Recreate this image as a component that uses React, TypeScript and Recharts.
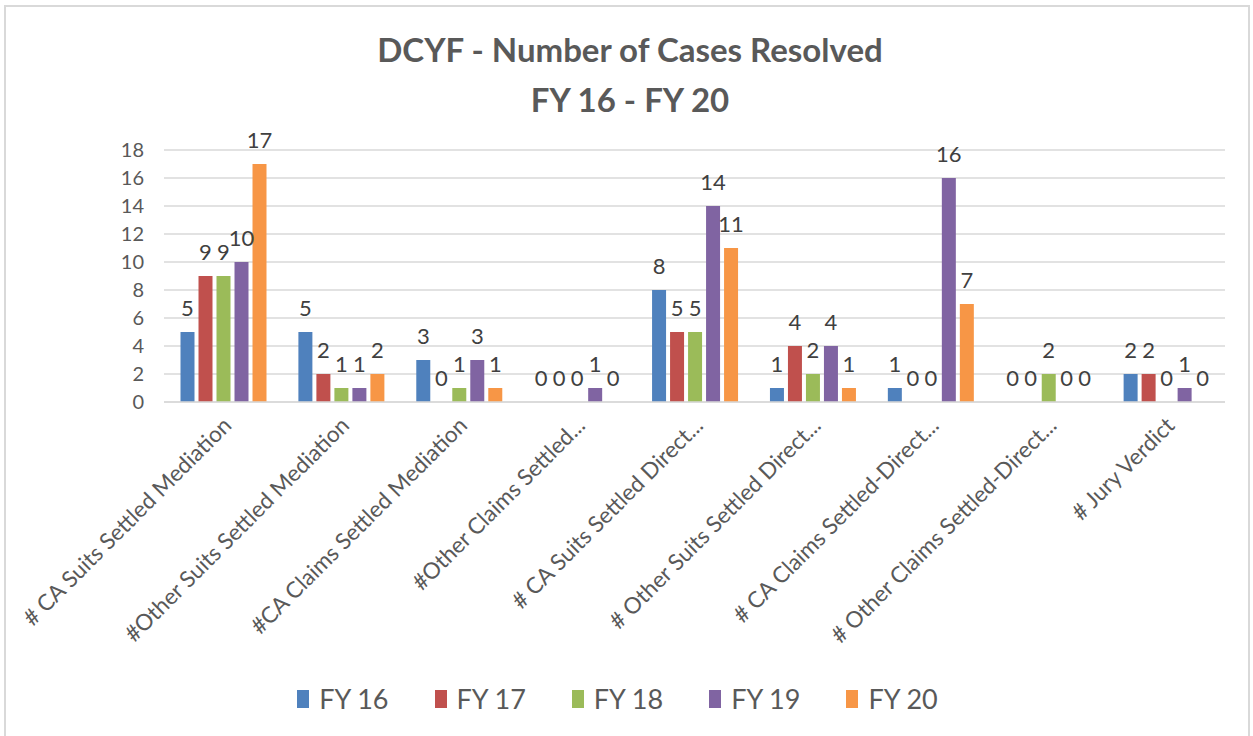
import { BarChart, Bar, XAxis, YAxis, CartesianGrid, LabelList } from 'recharts'

const categories = [
  '# CA Suits Settled Mediation',
  '#Other Suits Settled Mediation',
  '#CA Claims Settled Mediation',
  '#Other Claims Settled...',
  '# CA Suits Settled Direct...',
  '# Other Suits Settled Direct...',
  '# CA Claims Settled-Direct...',
  '# Other Claims Settled-Direct...',
  '# Jury Verdict',
]

const fy16 = [5, 5, 3, 0, 8, 1, 1, 0, 2]
const fy17 = [9, 2, 0, 0, 5, 4, 0, 0, 2]
const fy18 = [9, 1, 1, 0, 5, 2, 0, 2, 0]
const fy19 = [10, 1, 3, 1, 14, 4, 16, 0, 1]
const fy20 = [17, 2, 1, 0, 11, 1, 7, 0, 0]

const seriesNames = ['FY 16', 'FY 17', 'FY 18', 'FY 19', 'FY 20']
const seriesColors = ['#4F81BD', '#C0504D', '#9BBB59', '#8064A2', '#F79646']
const yTicks = [0, 2, 4, 6, 8, 10, 12, 14, 16, 18]

const allSeries = [fy16, fy17, fy18, fy19, fy20]
const data = categories.map((name, i) => {
  const row: Record<string, string | number> = { name }
  seriesNames.forEach((s, j) => {
    row[s] = allSeries[j][i]
  })
  return row
})

const FONT = 'Lato, "Open Sans", sans-serif'

function CategoryTick({ x, y, payload }: any) {
  return (
    <g transform={`translate(${x},${y})`}>
      <text
        x={-5}
        y={19}
        transform="rotate(-45)"
        textAnchor="end"
        fill="#595959"
        fontSize={22.5}
        fontFamily={FONT}
      >
        {payload.value}
      </text>
    </g>
  )
}

// value label above each bar, zeros included
function ValueLabel({ x, y, width, value }: any) {
  return (
    <text
      x={Number(x) + Number(width) / 2}
      y={Number(y) - 16}
      textAnchor="middle"
      fill="#404040"
      fontSize={22}
      fontFamily={FONT}
    >
      {value}
    </text>
  )
}

export default function App() {
  return (
    <div style={{ position: 'absolute', left: 0, top: 0, width: 1253, height: 736, background: '#fff', overflow: 'hidden' }}>
      <div
        style={{
          position: 'absolute',
          left: 4,
          top: 5,
          width: 1246,
          height: 740,
          border: '2px solid #D9D9D9',
          boxSizing: 'border-box',
        }}
      />
      <div
        style={{
          position: 'absolute',
          left: 0,
          top: 24,
          width: 1260,
          textAlign: 'center',
          fontFamily: FONT,
          fontWeight: 700,
          fontSize: 33,
          lineHeight: '50px',
          color: '#595959',
        }}
      >
        <div>DCYF - Number of Cases Resolved</div>
        <div>FY 16 - FY 20</div>
      </div>
      <BarChart
        width={1253}
        height={736}
        data={data}
        margin={{ top: 150, right: 28, bottom: 0, left: 114 }}
        barCategoryGap="14%"
        barGap={4}
      >
        <CartesianGrid vertical={false} stroke="#D9D9D9" strokeWidth={1.5} />
        <XAxis
          dataKey="name"
          interval={0}
          height={334}
          tick={<CategoryTick />}
          tickLine={false}
          axisLine={{ stroke: '#D9D9D9', strokeWidth: 1.5 }}
        />
        <YAxis
          width={50}
          domain={[0, 18]}
          ticks={yTicks}
          interval={0}
          axisLine={false}
          tickLine={false}
          tickMargin={14}
          tick={{ fill: '#595959', fontSize: 20, fontFamily: FONT }}
        />
        {seriesNames.map((s, i) => (
          <Bar key={s} dataKey={s} fill={seriesColors[i]} minPointSize={0.01} isAnimationActive={false}>
            <LabelList dataKey={s} content={<ValueLabel />} />
          </Bar>
        ))}
      </BarChart>
      <div
        style={{
          position: 'absolute',
          left: -9,
          top: 682,
          width: 1253,
          display: 'flex',
          justifyContent: 'center',
          gap: 46,
          fontFamily: FONT,
        }}
      >
        {seriesNames.map((s, i) => (
          <div key={s} style={{ display: 'flex', alignItems: 'center', gap: 10 }}>
            <span style={{ width: 12, height: 18, background: seriesColors[i], display: 'inline-block' }} />
            <span style={{ fontSize: 27, color: '#595959' }}>{s}</span>
          </div>
        ))}
      </div>
    </div>
  )
}
